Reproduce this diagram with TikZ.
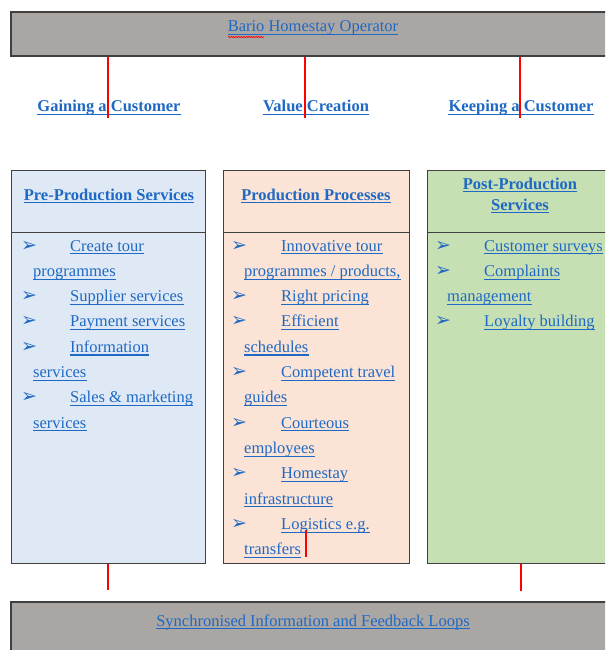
\documentclass[tikz,border=0pt]{standalone}
\usepackage{fontspec}
\setmainfont{Liberation Serif}
\newfontfamily\arrowfont{DejaVu Sans}
\usepackage{xcolor}
\usetikzlibrary{decorations.pathmorphing}

\definecolor{linkblue}{HTML}{1F69C4}
\definecolor{bargray}{HTML}{AAA6A4}
\definecolor{preblue}{HTML}{DEE9F5}
\definecolor{prodpeach}{HTML}{FBE3D6}
\definecolor{postgreen}{HTML}{C6E0B4}
\definecolor{edgegray}{HTML}{404040}

\tikzset{
  every node/.style={font=\fontsize{16.5}{20}\selectfont, text=linkblue, inner sep=0pt},
  bar/.style={draw=edgegray, line width=1.5pt, fill=bargray, rectangle},
  col/.style={draw=edgegray, line width=1pt, rectangle},
  ul/.style={append after command={([yshift=-2.8pt]\tikzlastnode.base west) edge[draw=linkblue, line width=1.1pt] ([yshift=-2.8pt]\tikzlastnode.base east)}},
  line/.style={anchor=base west, ul},
  mid/.style={anchor=base, ul},
  bul/.style={anchor=base west, font=\arrowfont\bfseries\fontsize{19}{20}\selectfont},
  conn/.style={red, line width=1.6pt}
}

\begin{document}
\begin{tikzpicture}[x=1pt,y=-1pt]
\clip (0,0) rectangle (605,650);
\fill[white] (0,0) rectangle (605,650);

% operator bar
\node[bar, minimum width=604, minimum height=44] (oper) at (313,34) {};
\node[mid] (opertxt) at (313,32) {Bario Homestay Operator};
\draw[red, line width=0.6pt, decorate, decoration={snake, amplitude=0.7pt, segment length=2.5pt}] (228,37) -- (264,37);

% three headings
\node[mid] (gain) at (109,112) {\bfseries Gaining a Customer};
\node[mid] (value) at (316,112) {\bfseries Value Creation};
\node[mid] (keep) at (521,112) {\bfseries Keeping a Customer};

% column boxes
\node[col, fill=preblue, minimum width=194, minimum height=393] (pre) at (108,366.5) {};
\node[col, fill=prodpeach, minimum width=186, minimum height=393] (prod) at (316,366.5) {};
\node[col, fill=postgreen, minimum width=188, minimum height=393] (post) at (521,366.5) {};
\draw[edgegray, line width=1pt] (11,232) -- (205,232);
\draw[edgegray, line width=1pt] (223,232) -- (409,232);
\draw[edgegray, line width=1pt] (427,232) -- (615,232);

\node[mid] (prehead) at (109,200) {\bfseries Pre-Production Services};
\node[mid] (prodhead) at (316,200) {\bfseries Production Processes};
\node[mid] (posthead) at (520,189) {\bfseries Post-Production};
\node[mid] (posthead2) at (520,210) {\bfseries Services};

% pre-production list
\foreach \k/\t in {0/Create tour, 2/Supplier services, 3/Payment services, 4/Information, 6/Sales \& marketing} {
  \node[bul] (preb\k) at (21,251+25.3*\k) {➢};
  \node[line] (pret\k) at (70,251+25.3*\k) {\t};
}
\foreach \k/\t in {1/programmes, 5/services, 7/services}
  \node[line] (prec\k) at (33,251+25.3*\k) {\t};

% production list
\foreach \k/\t in {0/Innovative tour, 2/Right pricing, 3/Efficient, 5/Competent travel, 7/Courteous, 9/Homestay, 11/Logistics e.g.} {
  \node[bul] (prodb\k) at (231,251+25.3*\k) {➢};
  \node[line] (prodt\k) at (281,251+25.3*\k) {\t};
}
\foreach \k/\t in {1/{programmes / products,}, 4/schedules, 6/guides, 8/employees, 10/infrastructure, 12/transfers}
  \node[line] (prodc\k) at (244,251+25.3*\k) {\t};

% post-production list
\foreach \k/\t in {0/Customer surveys, 1/Complaints, 3/Loyalty building} {
  \node[bul] (postb\k) at (435,251+25.3*\k) {➢};
  \node[line] (postt\k) at (484,251+25.3*\k) {\t};
}
\node[line] (postc2) at (447,251+25.3*2) {management};

% feedback bar
\node[bar, minimum width=604, minimum height=58] (sync) at (313,631) {};
\node[mid] (synctxt) at (313,626) {Synchronised Information and Feedback Loops};

% red connectors
\coordinate (g1) at (108,118);
\coordinate (v1) at (305,118);
\coordinate (k1) at (520,118);
\draw[conn] (oper.south -| g1) -- (g1);
\draw[conn] (oper.south -| v1) -- (v1);
\draw[conn] (oper.south -| k1) -- (k1);
\coordinate (s1) at (108,590);
\coordinate (s3) at (521,591);
\coordinate (m1) at (306,530);
\coordinate (m2) at (306,557);
\draw[conn] (pre.south) -- (s1);
\draw[conn] (post.south -| s3) -- (s3);
\draw[conn] (m1) -- (m2);
\end{tikzpicture}
\end{document}
